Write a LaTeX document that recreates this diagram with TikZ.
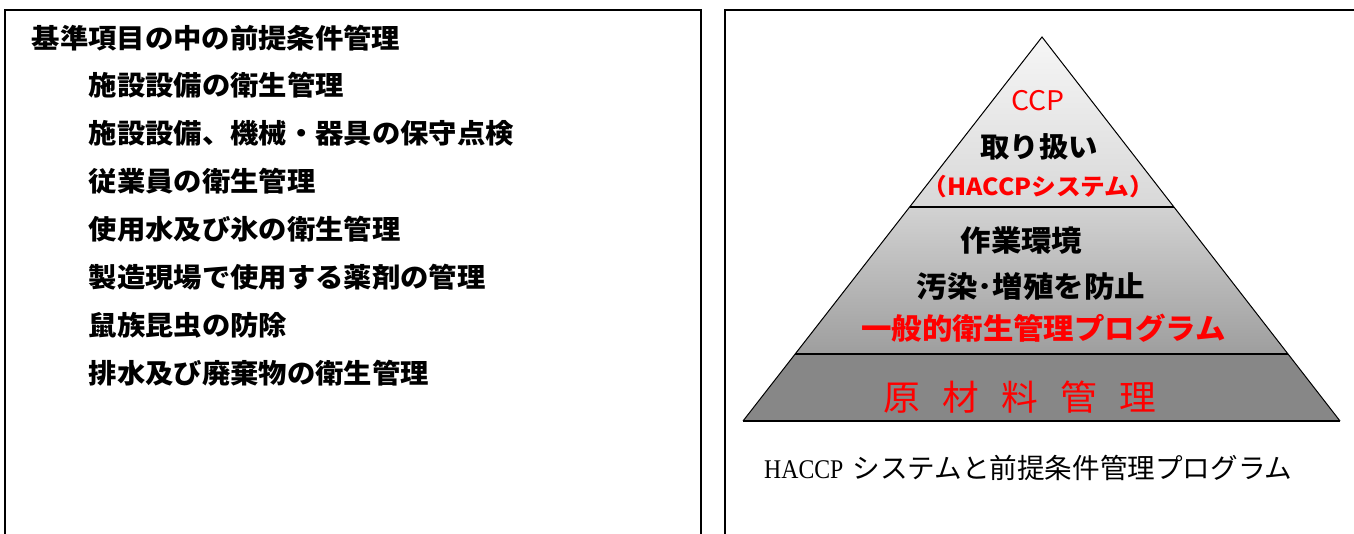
\documentclass[tikz,border=0pt]{standalone}
\usepackage{fontspec}
\newfontfamily\jp{Noto Sans CJK JP}
\newfontfamily\jpw[FakeStretch=1.05]{Noto Sans CJK JP}
\newfontfamily\capser[FakeStretch=0.88]{Liberation Serif}
\definecolor{pyrred}{RGB}{255,0,0}
\definecolor{gA}{HTML}{F6F6F6}
\definecolor{gB}{HTML}{D8D8D8}
\definecolor{gC}{HTML}{D2D2D2}
\definecolor{gD}{HTML}{9E9E9E}
\definecolor{gE}{HTML}{878787}
\begin{document}
\begin{tikzpicture}[x=1pt,y=1pt,
  listtxt/.style={font=\jpw\bfseries\fontsize{27}{30}\selectfont, anchor=west, inner sep=0pt},
  pyrtxt/.style={font=\jpw\bfseries\fontsize{29}{32}\selectfont, inner sep=0pt},
  frame/.style={line width=2pt, black}]
\useasboundingbox (0,0) rectangle (1354,-533);
\clip (0,0) rectangle (1354,-533);
\fill[white] (0,0) rectangle (1354,-533);
% frames
\draw[frame] (5,-540) -- (5,-10) -- (701,-10) -- (701,-540);
\draw[frame] (725,-540) -- (725,-10) -- (1360,-10);
% left list
\node[listtxt] (title) at (31.5,-38) {基準項目の中の前提条件管理};
\node[listtxt] (i1) at (88.5,-85) {施設設備の衛生管理};
\node[listtxt] (i2) at (88.5,-133) {施設設備、機械・器具の保守点検};
\node[listtxt] (i3) at (88.5,-181) {従業員の衛生管理};
\node[listtxt] (i4) at (88.5,-229) {使用水及び氷の衛生管理};
\node[listtxt] (i5) at (88.5,-277) {製造現場で使用する薬剤の管理};
\node[listtxt] (i6) at (88.5,-325) {鼠族昆虫の防除};
\node[listtxt] (i7) at (88.5,-373) {排水及び廃棄物の衛生管理};
% pyramid
\coordinate (apex) at (1042,-37);
\coordinate (bl) at (743,-421);
\coordinate (br) at (1340,-421);
\coordinate (d1l) at (909.6,-207);
\coordinate (d1r) at (1173.9,-207);
\coordinate (d2l) at (795.2,-354);
\coordinate (d2r) at (1288,-354);
\fill[top color=gA, bottom color=gB] (apex) -- (d1r) -- (d1l) -- cycle;
\fill[top color=gC, bottom color=gD] (d1l) -- (d1r) -- (d2r) -- (d2l) -- cycle;
\fill[gE] (d2l) -- (d2r) -- (br) -- (bl) -- cycle;
\draw[line width=1pt, line join=miter] (bl) -- (apex) -- (br);
\draw[line width=2pt] (bl) -- (br);
\draw[line width=2.5pt] (d1l) -- (d1r);
\draw[line width=2.5pt] (d2l) -- (d2r);
% pyramid texts
\node[font=\jpw\fontsize{27}{30}\selectfont, text=pyrred, inner sep=0pt] (ccp) at (1038,-100.5) {CCP};
\node[pyrtxt, font=\jpw\bfseries\fontsize{28}{31}\selectfont] (handle) at (1039,-146.5) {取り扱い};
\node[pyrtxt, font=\jpw\bfseries\fontsize{23.5}{27}\selectfont, text=pyrred] (hsys) at (1038.5,-186.5) {（HACCPシステム）};
\node[pyrtxt] (env) at (1021.5,-240.5) {作業環境};
\node[pyrtxt] (prev) at (1031,-286) {汚染･増殖を防止};
\node[pyrtxt, font=\jpw\bfseries\fontsize{29}{32}\selectfont, text=pyrred] (prog) at (1043.5,-328) {一般的衛生管理プログラム};
\node[font=\jpw\fontsize{35}{38}\selectfont, text=pyrred, inner sep=0pt] (raw) at (1020,-397.5) {原\hspace{0.64em}材\hspace{0.64em}料\hspace{0.64em}管\hspace{0.64em}理};
% caption
\node[inner sep=0pt, anchor=west] (cap) at (764,-468) {{\capser\fontsize{27}{30}\selectfont HACCP}\hspace{9pt}{\jp\fontsize{27.6}{30}\selectfont システムと前提条件管理プログラム}};
\end{tikzpicture}
\end{document}
